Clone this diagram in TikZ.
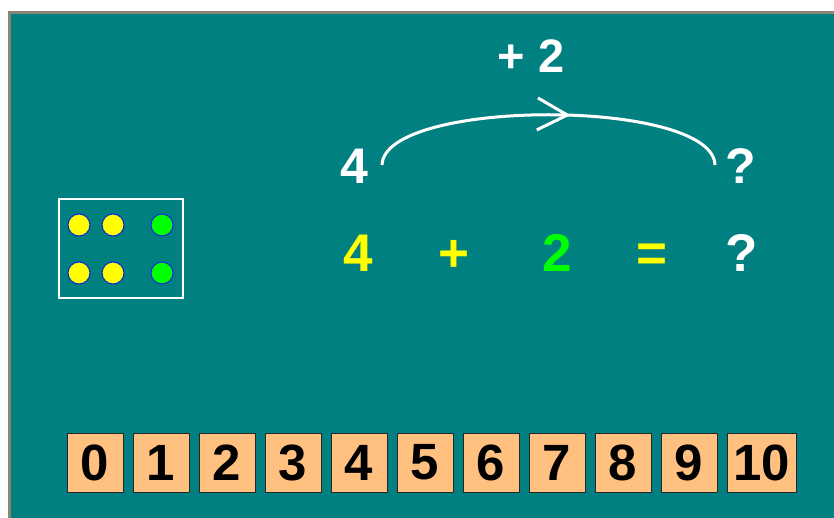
\documentclass[tikz,border=0pt]{standalone}
\usepackage{fontspec}
\setmainfont{Liberation Sans}
\usetikzlibrary{arrows.meta,decorations.markings}
\definecolor{teal0}{HTML}{008080}
\definecolor{frame0}{HTML}{8C8474}
\definecolor{peach}{HTML}{FFC080}
\definecolor{yel}{HTML}{FFFF00}
\definecolor{grn}{HTML}{00FF00}
\definecolor{dotline}{HTML}{1020E0}
\tikzset{
  txt/.style={anchor=base,inner sep=0pt,font=\bfseries\fontsize{#1}{#1}\selectfont},
  numbox/.style={draw=black!85,fill=peach,line width=1pt,minimum height=59pt,inner sep=0pt,font=\bfseries\fontsize{51}{51}\selectfont,text=black},
  dot/.style={circle,draw=dotline,line width=1pt,minimum size=22pt,inner sep=0pt,fill=#1},
}
\begin{document}
\begin{tikzpicture}[x=1pt,y=-1pt]
\useasboundingbox (0,0) rectangle (834,518);
\fill[white] (0,0) rectangle (834,518);
\fill[teal0] (9,12) rectangle (834,518);
\draw[frame0,line width=2.5pt] (9.5,518) -- (9.5,12.5) -- (834,12.5);
% dot box
\node[draw=white,line width=2pt,minimum width=124pt,minimum height=99pt,inner sep=0pt] (dbox) at (120.5,248.5) {};
\node[dot=yel] (d1) at (79,225) {};
\node[dot=yel] (d2) at (113,225) {};
\node[dot=grn] (d3) at (162,225) {};
\node[dot=yel] (d4) at (79,273) {};
\node[dot=yel] (d5) at (113,273) {};
\node[dot=grn] (d6) at (162,273) {};
% top row
\node[txt=47,text=white] (plus2) at (531,73) {+ 2};
\node[txt=50,text=white] (ftop) at (354,184) {4};
\node[txt=50,text=white] (qtop) at (741,184) {?};
\coordinate (a1) at (382,165);
\coordinate (a2) at (715,165);
\draw[white,line width=3pt,decoration={markings,mark=at position 0.56 with {\arrow{Straight Barb[length=30pt,width=32pt]}}},postaction={decorate}]
  (a1) .. controls (384,98) and (713,98) .. (a2);
% equation
\node[txt=53,text=yel] (e4) at (358,272) {4};
\node[txt=53,text=yel] (eplus) at (454,272) {+};
\node[txt=53,text=grn] (e2) at (557,272) {2};
\node[txt=53,text=yel] (eeq) at (652,272) {=};
\node[txt=53,text=white] (eq) at (742,272) {?};
% number boxes
\foreach \k in {0,...,9} {
  \node[numbox,minimum width=56pt] (n\k) at ({95+66*\k},462.5) {\k};
}
\node[numbox,minimum width=69pt] (n10) at (761.5,462.5) {10};
\end{tikzpicture}
\end{document}
